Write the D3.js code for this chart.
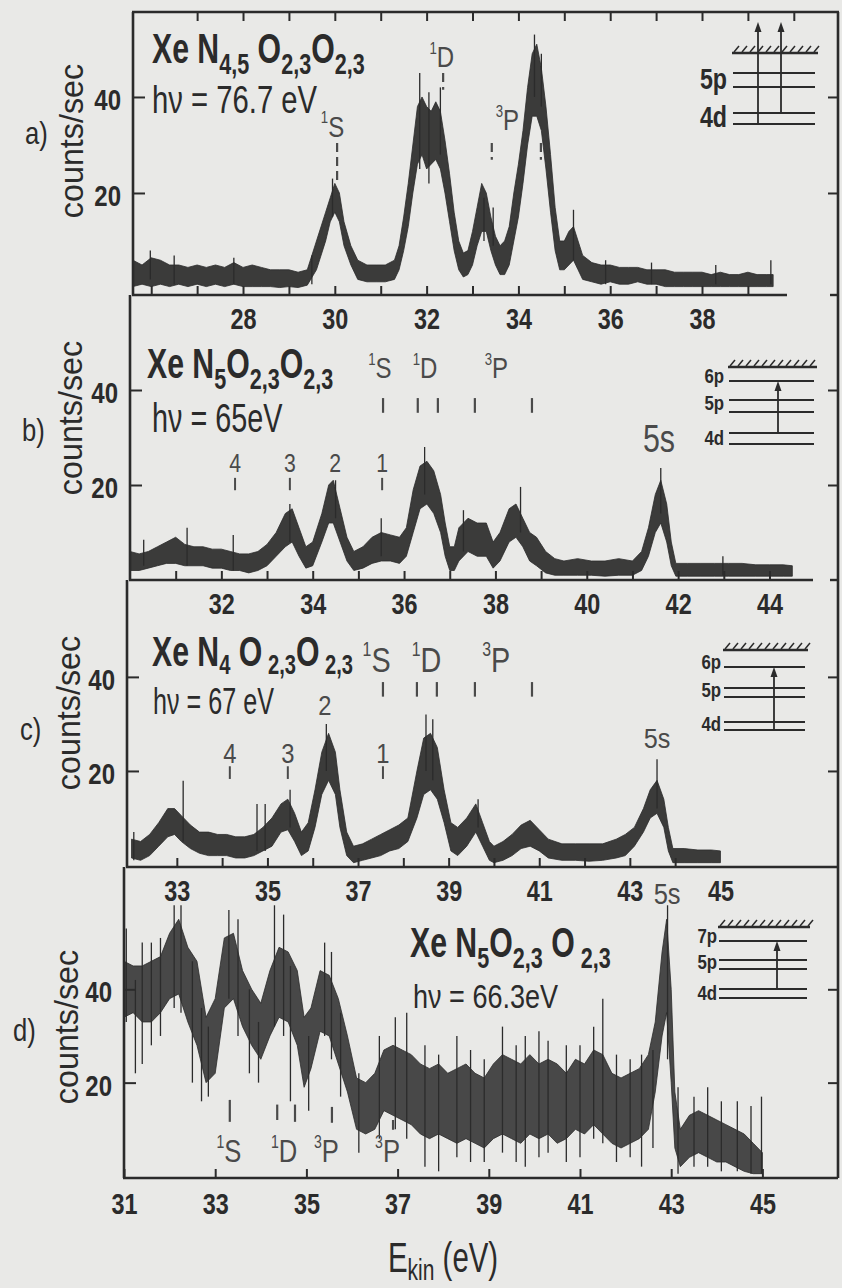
<!DOCTYPE html>
<html><head><meta charset="utf-8">
<script src="https://cdn.jsdelivr.net/npm/d3@7"></script>
<style>
html,body{margin:0;padding:0;background:#e9e9e7;}
svg{display:block;}
text{font-family:"Liberation Sans",Arial,sans-serif;}
</style></head><body>
<svg id="fig" width="842" height="1288"></svg>
<script>
// ---------------- DATA ----------------
// spectra: [E_kin (eV), lower envelope, upper envelope] in counts/sec
const specA = [[25.6,0.5,6],[25.8,1,5],[26.0,0.5,6.5],[26.2,1,6],[26.4,0.5,5],[26.6,1,5],[26.8,0.5,4.5],[27.0,1,5],[27.2,0.5,4.5],[27.4,1,5],[27.6,0.5,4.5],[27.8,1,5.5],[28.0,0.5,4.5],[28.2,0.5,5],[28.4,0.5,4.5],[28.6,0.5,4],[28.8,0.3,4],[29.0,0.5,4],[29.2,0.3,3.5],[29.4,0.8,4],[29.6,4,10],[29.8,10,16],[29.9,14,19],[30.0,16,22],[30.1,14,20],[30.2,9,14],[30.35,5,9],[30.5,2,6],[30.7,1.5,5],[30.9,1.5,5],[31.1,1.5,5],[31.3,2,6],[31.4,4,9],[31.5,8,15],[31.6,13,22],[31.7,20,30],[31.8,26,38],[31.9,28,40],[32.0,25,38],[32.1,26,37],[32.2,27,39],[32.3,25,37],[32.4,20,31],[32.5,14,24],[32.6,8,16],[32.7,4,10],[32.8,2.5,7.5],[32.9,3,8],[33.0,5,12],[33.1,9,17],[33.2,12,22],[33.3,12,20],[33.4,8,15],[33.5,5,11],[33.6,3,9],[33.7,3,10],[33.8,5,13],[33.9,10,20],[34.0,15,26],[34.1,22,33],[34.2,30,42],[34.3,36,49],[34.4,36,51],[34.5,33,46],[34.6,25,38],[34.7,16,28],[34.8,8,17],[34.9,4,10],[35.0,4,10],[35.1,5,12],[35.2,6,13],[35.3,4,10],[35.4,2,7],[35.6,1.5,5.5],[35.8,1,5],[36.0,1.5,5],[36.2,1,4.5],[36.4,1,4.5],[36.6,1.5,4.5],[36.8,1,4],[37.0,1,4],[37.2,0.5,4],[37.4,0.5,3.5],[37.6,0.5,3.5],[37.8,0.5,3.5],[38.0,0.5,3.5],[38.2,0.5,3],[38.4,0.5,3.5],[38.6,0.5,3],[38.8,0.5,3],[39.0,0.5,3.5],[39.2,0.5,3],[39.4,0.5,3],[39.55,0.5,3]];
const spikesA = [[25.98,2,8],[26.5,1,7],[27.8,1,6.5],[29.5,1,7],[29.95,15,23],[31.85,25,45],[32.05,22,41],[32.3,28,42],[33.25,10,19],[33.45,9,17],[34.35,40,53],[34.5,38,49],[35.2,6,16.5],[35.9,1,6],[36.9,1,5.5],[38.3,1,5],[39.5,1,6]];

const specB = [[30.0,2,6],[30.2,2,5.5],[30.4,2.5,6],[30.6,3,7],[30.8,3.5,8],[31.0,3.5,9],[31.2,3,7.5],[31.4,3,7],[31.6,3,7],[31.8,2.5,6.5],[32.0,2.5,6.5],[32.2,2,6],[32.4,2,5.5],[32.6,1.5,5.5],[32.8,2,6],[33.0,3,7.5],[33.2,5,10],[33.4,7,14],[33.55,8,15],[33.7,5,11],[33.85,2.5,7],[34.0,3,8],[34.2,8,14],[34.35,12,20],[34.45,12,21],[34.6,8,15],[34.75,4,9],[34.9,2,6],[35.1,2.5,7],[35.3,3.5,9],[35.5,4,10],[35.7,4,9.5],[35.9,3.5,9],[36.05,5,11],[36.2,10,19],[36.35,15,24],[36.5,16,25],[36.65,14,23],[36.8,10,18],[36.9,5,12],[37.0,2,7],[37.1,2,7],[37.2,4,11],[37.4,6,13],[37.6,5,12],[37.8,5,12],[37.95,2.5,8],[38.1,4,10],[38.3,8,15],[38.45,9,16],[38.6,7,13],[38.75,4,10],[38.9,3,9],[39.1,1.5,6],[39.3,1,4.5],[39.5,1,4],[39.8,1,4.5],[40.1,1,4],[40.4,0.8,4],[40.7,1,4.5],[41.0,1,4],[41.2,2,6],[41.35,5,11],[41.5,10,18],[41.62,12,21],[41.75,8,16],[41.85,3,8],[41.95,0.8,3.5],[42.2,0.8,3.5],[42.5,0.8,3.5],[42.8,0.8,3.5],[43.1,0.8,3.5],[43.4,0.8,3.5],[43.7,0.8,3.2],[44.0,0.8,3.2],[44.3,0.8,3.2],[44.5,0.8,3]];
const spikesB = [[30.3,3,8.5],[31.25,3,11],[32.26,2,9.5],[33.5,8,16],[34.5,13,21],[35.5,5,13],[36.45,18,28],[37.3,6,14.7],[38.55,10,19.6],[41.62,14,23.6],[42.98,1,5]];

const specC = [[32.0,1.5,5.5],[32.2,1,5],[32.4,2,6.5],[32.6,4,9],[32.8,6,12],[32.95,6.5,12],[33.1,5,10.5],[33.3,3.5,8.5],[33.5,2.5,7],[33.7,2,7],[33.9,2,6.5],[34.1,2,6.5],[34.3,1.5,6],[34.5,1.5,6],[34.7,2,6.5],[34.9,3,8],[35.1,4,10],[35.3,7,13],[35.45,7.5,14],[35.6,5,11],[35.75,2,7],[35.9,3,9],[36.05,8,16],[36.2,15,24],[36.35,18,28],[36.5,15,24],[36.6,8,16],[36.75,2,7],[36.9,0.5,4],[37.1,1,4.5],[37.3,1.5,5.5],[37.5,2,6.5],[37.7,3,7.5],[37.9,3.5,8.5],[38.1,5,10],[38.3,10,20],[38.45,15,27],[38.6,16,28],[38.75,14,25],[38.9,9,16],[39.05,3,9],[39.2,2,8],[39.4,4,10],[39.6,7,13],[39.75,4,9],[39.9,1,5],[40.0,0.5,4],[40.2,1,5],[40.4,2,6.5],[40.6,3.5,8.5],[40.8,4,9.5],[41.0,3,7.5],[41.2,1.5,5.5],[41.5,1,4.5],[41.8,1,4.5],[42.1,0.8,4.5],[42.4,1,4.5],[42.7,1.5,5.5],[42.9,2,6.5],[43.1,4,8],[43.3,7,12],[43.45,10,16],[43.6,11,18],[43.75,8,14],[43.85,3,8],[43.95,0.5,3.5],[44.2,0.5,3.5],[44.5,0.5,3.2],[44.8,0.5,3.2],[45.0,0.5,3]];
const spikesC = [[32.05,1,7],[33.14,5,17.9],[34.77,3,13],[34.95,3,13],[35.5,8,16],[36.3,20,30],[38.5,20,32],[38.65,18,31],[39.65,8,14],[43.6,12,22.5]];

const specD = [[31.0,34,46],[31.2,35,45],[31.4,33,45],[31.6,33,46],[31.8,35,47],[32.0,38,52],[32.2,39,55],[32.4,33,49],[32.6,28,46],[32.8,20,34],[33.0,22,38],[33.2,36,51],[33.4,38,52],[33.6,32,44],[33.8,28,40],[34.0,25,37],[34.2,30,44],[34.4,34,49],[34.6,33,48],[34.8,28,44],[34.95,19,34],[35.1,23,36],[35.3,31,44],[35.5,30,43],[35.7,24,38],[35.9,18,30],[36.1,10,21],[36.3,9,20],[36.5,10,22],[36.7,14,27],[36.9,13,28],[37.1,12,27],[37.3,11,26],[37.5,9,24],[37.7,8,23],[37.9,9,24],[38.1,8,22],[38.3,7,23],[38.5,8,24],[38.7,7,22],[38.9,6,21],[39.1,8,24],[39.3,9,26],[39.5,8,25],[39.7,7,24],[39.9,9,26],[40.1,8,24],[40.3,9,25],[40.5,7,24],[40.7,8,22],[40.9,10,25],[41.1,9,24],[41.3,11,27],[41.5,9,26],[41.7,7,22],[41.9,6,21],[42.1,7,22],[42.3,8,23],[42.5,10,26],[42.65,18,33],[42.8,30,48],[42.9,35,55],[43.0,20,40],[43.08,6,18],[43.2,2,10],[43.4,4,13],[43.6,5,14],[43.8,4,13],[44.0,3,12],[44.2,3,11],[44.4,2,10],[44.6,1,9],[44.8,0.5,7],[45.0,0.5,5]];
const spikesD = [[31.05,33,53],[31.25,22,42],[31.4,24,50],[31.6,28,50],[31.8,30,51],[32.1,36,58],[32.25,35,58],[32.5,20,46],[32.7,16,36],[32.85,17,32],[33.3,38,57],[33.5,30,55],[33.75,22,40],[33.95,20,33],[34.3,32,58],[34.5,30,56],[34.65,16,45],[35.05,14,30],[35.4,30,50],[35.55,25,48],[35.75,17,35],[36.15,5,22],[36.6,8,30],[36.95,10,34],[37.2,8,35],[37.6,2,28],[37.9,1,26],[38.3,4,30],[38.6,3,27],[38.9,3,25],[39.3,5,32],[39.6,3,28],[39.8,2,30],[40.1,4,31],[40.3,5,29],[40.7,3,28],[41.0,4,28],[41.3,8,32],[41.5,7,38],[41.8,3,26],[42.1,4,25],[42.35,2,26],[42.6,6,27],[42.92,25,58],[43.15,0.5,19],[43.5,2,17],[43.8,2,19],[44.1,1,16],[44.45,1,16],[44.75,0.5,15],[44.98,0.5,17]];

// axis ticks / labels
const yTickVals = [20, 40];
const topTicksA = [27,28,29,30,31,32,33,34,35,36,37,38,39,40];
const ticksA = [26,27,28,29,30,31,32,33,34,35,36,37,38,39];
const labelsA = [28,30,32,34,36,38];
const ticksB = [31,32,33,34,35,36,37,38,39,40,41,42,43,44];
const labelsB = [32,34,36,38,40,42,44];
const ticksC = [33,34,35,36,37,38,39,40,41,42,43,44];
const labelsC = [33,35,37,39,41,43,45];
const ticksD = [31,33,35,37,39,41,43,45];
const labelsD = [31,33,35,37,39,41,43,45];

// peak annotations: [text parts, E, counts]  and marker ticks: [E, counts from, counts to]
const annA = [[["1s","S"],29.95,31.7],[["1s","D"],32.33,46.2],[["3s","P"],33.76,33.1]];
const markA = [[30.05,30.4,22.7],[32.36,45,41.5],[33.42,30.4,26.9],[34.49,30.4,26.9]];
const annB = [[["1s","S"],35.47,42.5],[["1s","D"],36.46,42.5],[["3s","P"],38.02,42.5]];
const markB = [[35.54,38.3,35.2],[36.3,38.3,35.2],[36.74,38.3,35.2],[37.55,38.3,35.2],[38.8,38.3,35.2]];
const numB = [["4",32.3,22.7],["3",33.5,22.7],["2",34.49,22.7],["1",35.52,22.7]];
const numMarkB = [[32.3,21.5,18.9],[33.5,21.5,18.9],[35.52,21.5,18.9]];
const annC = [[["1s","S"],37.41,41.0],[["1s","D"],38.51,41.0],[["3s","P"],40.05,41.0]];
const markC = [[37.55,38.9,35.8],[38.3,38.9,35.8],[38.74,38.9,35.8],[39.58,38.9,35.8],[40.84,38.9,35.8]];
const numC = [["2",36.27,32.0],["4",34.17,21.7],["3",35.45,21.7],["1",37.55,21.7]];
const numMarkC = [[34.17,21.0,18.3],[35.45,21.0,18.3],[37.55,21.0,18.3]];
const annD = [[["1s","S"],33.3,3.0],[["1s","D"],34.51,3.0],[["3s","P"],35.44,3.0],[["3s","P"],36.78,3.0]];
const markD = [[33.32,16.3,11.6],[34.36,15.3,12],[34.75,15.3,11.6],[35.56,14.8,11.4],[36.9,12,9.9]];
const fiveS = [41.58, 43.6, 42.91];

// ---------------- DRAWING ----------------
const ink = "#2b2b2b", soft = "#4a4a4a";
const svg = d3.select("#fig");

function rich(g, x, y, parts, o) {
  const t = g.append("text")
    .attr("transform", `translate(${x},${y}) scale(${o.sx || 0.8},1)`)
    .attr("text-anchor", o.anchor || "start")
    .style("font-size", o.size + "px")
    .style("font-weight", o.weight || "normal")
    .style("fill", o.fill || ink);
  let shift = 0;
  parts.forEach(p => {
    let s = p, kind = null;
    if (Array.isArray(p)) { s = p[0]; kind = p[1]; }
    const target = kind === "sub" ? (o.subDy || o.size * 0.28) : kind === "sup" ? -(o.supDy || o.size * 0.42) : 0;
    const ts = t.append("tspan").text(s).attr("dy", target - shift);
    if (kind) ts.style("font-size", (kind === "sub" ? (o.subSize || o.size * 0.72) : (o.supSize || o.size * 0.55)) + "px");
    shift = target;
  });
  return t;
}
function supParts(a) { return [[a[0].replace("s",""), "sup"], a[1]]; }

const panels = [
  { id:"a", left:133, top:12, bottom:295, xDom:[25.603,40.963], yDom:[-1.25,57.7], spec:specA, spikes:spikesA,
    ticks:ticksA, labels:labelsA, lblPad:13, axisEnd:787 },
  { id:"b", left:130, top:295, bottom:580, xDom:[30,45.5], yDom:[0,60], spec:specB, spikes:spikesB,
    ticks:ticksB, labels:labelsB, lblPad:13, axisEnd:813 },
  { id:"c", left:127, top:580, bottom:867, xDom:[31.9,47.595], yDom:[-0.42,60.6], spec:specC, spikes:spikesC,
    ticks:ticksC, labels:labelsC, lblPad:13, axisEnd:838 },
  { id:"d", left:124, top:867, bottom:1178, xDom:[31,46.658], yDom:[-0.43,66.2], spec:specD, spikes:spikesD,
    ticks:ticksD, labels:labelsD, lblPad:15, axisEnd:838 }
];
const RIGHT = 838;

panels.forEach(p => {
  p.x = d3.scaleLinear().domain(p.xDom).range([p.left, RIGHT]);
  p.y = d3.scaleLinear().domain(p.yDom).range([p.bottom, p.top]);
  const g = svg.append("g").attr("class", "panel-" + p.id);
  p.g = g;

  // spectrum band
  const area = d3.area().x(d => p.x(d[0])).y0(d => p.y(d[1])).y1(d => p.y(d[2]));
  g.append("path").datum(p.spec).attr("d", area)
    .attr("fill", ink).attr("fill-opacity", p.id === "d" ? 0.85 : 0.92)
    .attr("stroke", ink).attr("stroke-width", 0.8);
  g.selectAll("line.sp").data(p.spikes).join("line").attr("class","sp")
    .attr("x1", d => p.x(d[0])).attr("x2", d => p.x(d[0]))
    .attr("y1", d => p.y(d[1])).attr("y2", d => p.y(d[2]))
    .attr("stroke", ink).attr("stroke-width", 1.3);

  // left border
  g.append("line").attr("x1", p.left).attr("x2", p.left).attr("y1", p.y.range()[1]).attr("y2", p.y.range()[0])
    .attr("stroke", ink).attr("stroke-width", 2.6);
  // bottom axis line
  g.append("line").attr("x1", p.left - 1).attr("x2", p.axisEnd).attr("y1", p.bottom).attr("y2", p.bottom)
    .attr("stroke", ink).attr("stroke-width", 2.6);
  if (p.axisEnd < RIGHT) {
    g.append("line").attr("x1", RIGHT - 8).attr("x2", RIGHT).attr("y1", p.bottom).attr("y2", p.bottom)
      .attr("stroke", ink).attr("stroke-width", 2.4);
  }

  // x ticks (inward) and labels
  const tk = g.append("g").attr("transform", `translate(0,${p.bottom})`)
    .call(d3.axisBottom(p.x).tickValues(p.ticks).tickSize(-9).tickFormat(""));
  tk.select(".domain").remove();
  tk.selectAll("line").attr("stroke", ink).attr("stroke-width", 2);
  const lb = g.append("g").attr("transform", `translate(0,${p.bottom})`)
    .call(d3.axisBottom(p.x).tickValues(p.labels).tickSize(0).tickPadding(p.lblPad).tickFormat(d3.format("d")));
  lb.select(".domain").remove();
  lb.selectAll("text").attr("fill", ink).attr("font-family", null)
    .style("font-size", "30px").style("font-weight", "bold").attr("transform", "scale(0.78,1)");

  // y ticks left & right
  const yl = g.append("g").attr("transform", `translate(${p.left},0)`)
    .call(d3.axisLeft(p.y).tickValues(yTickVals).tickSize(-12).tickPadding(10).tickFormat(d3.format("d")));
  yl.select(".domain").remove();
  yl.selectAll("line").attr("stroke", ink).attr("stroke-width", 2);
  yl.selectAll("text").attr("fill", ink).attr("font-family", null).attr("dy", "0.42em")
    .style("font-size", "30px").style("font-weight", "bold").attr("transform", "scale(0.8,1)")
    .attr("x", -12 / 0.8);
  const yr = g.append("g").attr("transform", `translate(${RIGHT},0)`)
    .call(d3.axisRight(p.y).tickValues(yTickVals).tickSize(-10).tickFormat(""));
  yr.select(".domain").remove();
  yr.selectAll("line").attr("stroke", ink).attr("stroke-width", 2);
});

// top and right frame
const pa = panels[0];
svg.append("line").attr("x1", pa.left - 1).attr("x2", RIGHT + 1).attr("y1", pa.top).attr("y2", pa.top).attr("stroke", ink).attr("stroke-width", 2.6);
svg.append("line").attr("x1", RIGHT).attr("x2", RIGHT).attr("y1", pa.top).attr("y2", panels[3].bottom).attr("stroke", ink).attr("stroke-width", 2.6);
const tt = svg.append("g").attr("transform", `translate(0,${pa.top})`)
  .call(d3.axisTop(pa.x).tickValues(topTicksA).tickSize(-9).tickFormat(""));
tt.select(".domain").remove();
tt.selectAll("line").attr("stroke", ink).attr("stroke-width", 2);

// y axis titles and panel letters
const yTitle = [[83,141],[82,418],[80,713],[78,1027]];
const letters = [["a)",25,144],["b)",22,441],["c)",20,740],["d)",13,1041]];
panels.forEach((p, i) => {
  svg.append("text").attr("transform", `translate(${yTitle[i][0]},${yTitle[i][1]}) rotate(-90) scale(0.95,1)`)
    .attr("text-anchor", "middle").style("font-size", "34px").style("fill", ink).text("counts/sec");
  rich(svg, letters[i][1], letters[i][2], [letters[i][0]], { size: 32, sx: 0.8 });
});

// titles
const tOpt = { size: 42, weight: "bold", sx: 0.72, subSize: 30, subDy: 11 };
rich(svg, 152, 63, ["Xe N", ["4,5","sub"], " O", ["2,3","sub"], "O", ["2,3","sub"]], tOpt);
rich(svg, 147, 378, ["Xe  N", ["5","sub"], "O", ["2,3","sub"], "O", ["2,3","sub"]], tOpt);
rich(svg, 152, 666, ["Xe N", ["4","sub"], "  O", [" 2,3","sub"], "O", [" 2,3","sub"]], { size: 42, weight: "bold", sx: 0.72, subSize: 28, subDy: 8 });
rich(svg, 410, 957, ["Xe  N", ["5","sub"], "O", ["2,3","sub"], " O", [" 2,3","sub"]], tOpt);
rich(svg, 152, 113, ["hν = 76.7 eV"], { size: 38, sx: 0.77 });
rich(svg, 152, 432, ["hν = 65eV"], { size: 40, sx: 0.72 });
rich(svg, 153, 714, ["hν = 67 eV"], { size: 37, sx: 0.68 });
rich(svg, 413, 1008, ["hν = 66.3eV"], { size: 33, sx: 0.82 });

// annotations
function annotate(p, ann, marks, size, dash) {
  ann.forEach(a => rich(p.g, p.x(a[1]), p.y(a[2]), supParts(a[0]), { size: size, sx: 0.8, anchor: "middle", fill: soft, supDy: size * 0.45 }));
  p.g.selectAll(null).data(marks).join("line")
    .attr("x1", d => p.x(d[0])).attr("x2", d => p.x(d[0]))
    .attr("y1", d => p.y(d[1])).attr("y2", d => p.y(d[2]))
    .attr("stroke", soft).attr("stroke-width", 2.2).attr("stroke-dasharray", dash || null);
}
annotate(panels[0], annA, markA, 30, "9,5");
annotate(panels[1], annB, markB, 30);
annotate(panels[2], annC, markC, 36);
annotate(panels[3], annD, markD, 32);
[[panels[1], numB, numMarkB, 25], [panels[2], numC, numMarkC, 28]].forEach(([p, nums, marks, sz]) => {
  nums.forEach(n => rich(p.g, p.x(n[1]), p.y(n[2]), [n[0]], { size: sz, sx: 0.85, anchor: "middle", fill: soft }));
  p.g.selectAll(null).data(marks).join("line")
    .attr("x1", d => p.x(d[0])).attr("x2", d => p.x(d[0]))
    .attr("y1", d => p.y(d[1])).attr("y2", d => p.y(d[2]))
    .attr("stroke", soft).attr("stroke-width", 2);
});
// 5s labels
rich(panels[1].g, panels[1].x(fiveS[0]), panels[1].y(26.9), ["5s"], { size: 38, sx: 0.8, anchor: "middle", fill: soft });
rich(panels[2].g, panels[2].x(fiveS[1]), panels[2].y(24.8), ["5s"], { size: 28, sx: 0.9, anchor: "middle", fill: soft });
rich(panels[3].g, panels[3].x(fiveS[2]), panels[3].y(58.3), ["5s"], { size: 30, sx: 0.85, anchor: "middle", fill: soft });

// level-scheme insets (illustrations)
const insets = [
  { hatch:53, x0:732, x1:818, levels:[73,87,113,124], labels:[["5p",80],["4d",118]], lx:727, ls:29, arrows:[[758,124,22],[781,113,22]] },
  { hatch:367, x0:728, x1:817, levels:[381,400,412,433,444], labels:[["6p",377],["5p",404],["4d",439]], lx:724, ls:21, arrows:[[778,433,381]] },
  { hatch:650, x0:723, x1:808, levels:[667,688,697,722,730], labels:[["6p",663],["5p",691],["4d",725]], lx:721, ls:21, arrows:[[774,730,667]] },
  { hatch:927, x0:718, x1:810, levels:[941,960,969,989,998], labels:[["7p",937],["5p",963],["4d",994]], lx:717, ls:21, arrows:[[777,989,941]] }
];
insets.forEach(s => {
  const g = svg.append("g");
  g.append("line").attr("x1", s.x0).attr("x2", s.x1).attr("y1", s.hatch).attr("y2", s.hatch).attr("stroke", ink).attr("stroke-width", 2.4);
  for (let hx = s.x0 + 2; hx < s.x1; hx += 8) {
    g.append("line").attr("x1", hx).attr("x2", hx + 5).attr("y1", s.hatch - 1).attr("y2", s.hatch - 7).attr("stroke", ink).attr("stroke-width", 1.5);
  }
  s.levels.forEach(ly => g.append("line").attr("x1", s.x0 + 1).attr("x2", s.x1 - 3).attr("y1", ly).attr("y2", ly).attr("stroke", ink).attr("stroke-width", 2));
  s.labels.forEach(l => rich(g, s.lx, l[1] + s.ls * 0.3, [l[0]], { size: s.ls, weight: "bold", sx: 0.8, anchor: "end" }));
  s.arrows.forEach(a => {
    g.append("line").attr("x1", a[0]).attr("x2", a[0]).attr("y1", a[1]).attr("y2", a[2] + 6).attr("stroke", ink).attr("stroke-width", 1.8);
    g.append("path").attr("d", `M${a[0]-3.5},${a[2]+10} L${a[0]},${a[2]} L${a[0]+3.5},${a[2]+10} Z`).attr("fill", ink);
  });
});

// x-axis title
rich(svg, 388, 1272, ["E", ["kin","sub"], " (eV)"], { size: 42, sx: 0.7, subSize: 30, subDy: 8 });
</script>
</body></html>
